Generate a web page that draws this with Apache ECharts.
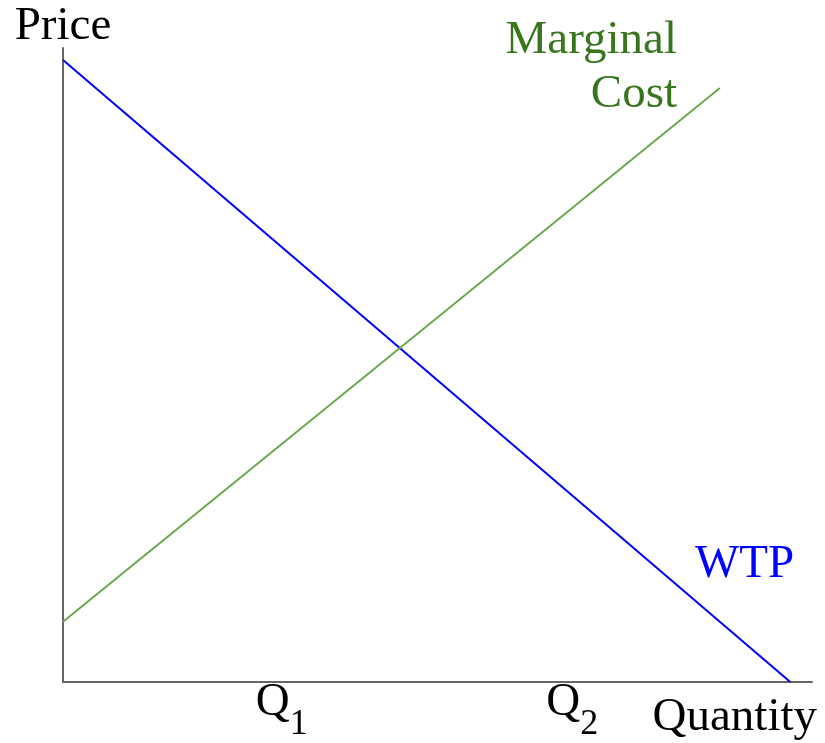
<!DOCTYPE html>
<html>
<head>
<meta charset="utf-8">
<script src="https://cdn.jsdelivr.net/npm/echarts@6/dist/echarts.min.js"></script>
<style>
  html, body { margin: 0; padding: 0; background: #fff; }
  #main { width: 825px; height: 743px; }
</style>
</head>
<body>
<div id="main"></div>
<script>
// curve end points (quantity, price) on a 0-100 scale
var wtpPoints = [[0, 98.1], [97.1, 0]];
var costPoints = [[0, 9.5], [87.7, 93.7]];
// marked quantities on the x axis
var qTicks = [29.2, 68.0];
var qNames = ['1', '2'];

var serif = 'Liberation Serif, Times New Roman, DejaVu Serif, serif';

var chart = echarts.init(document.getElementById('main'));

var option = {
    backgroundColor: '#ffffff',
    animation: false,
    grid: {
        left: 63,
        right: 13,
        top: 48,
        bottom: 61,
        outerBoundsMode: 'none'
    },
    xAxis: {
        type: 'value',
        min: 0,
        max: 100,
        name: 'Quantity',
        nameLocation: 'end',
        nameGap: 5,
        nameTextStyle: {
            fontFamily: serif,
            fontSize: 47,
            color: '#000',
            align: 'right',
            verticalAlign: 'top',
            padding: [12, 0, 0, 0]
        },
        axisLine: { lineStyle: { color: '#666', width: 2 } },
        axisTick: { show: false },
        splitLine: { show: false },
        axisLabel: {
            customValues: qTicks,
            margin: -3,
            formatter: function (v) {
                var i = qTicks.indexOf(v);
                return '{q|Q}{s|' + qNames[i] + '}';
            },
            rich: {
                q: { fontFamily: serif, fontSize: 47, color: '#000', lineHeight: 40, verticalAlign: 'top' },
                s: { fontFamily: serif, fontSize: 36, color: '#000', lineHeight: 64, verticalAlign: 'bottom' }
            }
        }
    },
    yAxis: {
        type: 'value',
        min: 0,
        max: 100,
        name: 'Price',
        nameLocation: 'end',
        nameGap: -2,
        nameTextStyle: {
            fontFamily: serif,
            fontSize: 47,
            color: '#000',
            align: 'center'
        },
        axisLine: { show: true, lineStyle: { color: '#666', width: 2 } },
        axisTick: { show: false },
        axisLabel: { show: false },
        splitLine: { show: false }
    },
    graphic: [
        {
            type: 'text',
            x: 677,
            y: 17,
            style: {
                text: 'Marginal',
                fill: '#38761d',
                font: '47px ' + serif,
                align: 'right',
                verticalAlign: 'top'
            }
        },
        {
            type: 'text',
            x: 677,
            y: 71,
            style: {
                text: 'Cost',
                fill: '#38761d',
                font: '47px ' + serif,
                align: 'right',
                verticalAlign: 'top'
            }
        },
        {
            type: 'text',
            x: 695,
            y: 541,
            style: {
                text: 'WTP',
                fill: '#0000ff',
                font: '47px ' + serif,
                verticalAlign: 'top'
            }
        }
    ],
    series: [
        {
            name: 'WTP',
            type: 'line',
            data: wtpPoints,
            symbol: 'none',
            lineStyle: { color: '#0000ff', width: 2 }
        },
        {
            name: 'Marginal Cost',
            type: 'line',
            data: costPoints,
            symbol: 'none',
            lineStyle: { color: '#6aa84f', width: 2 }
        }
    ]
};

chart.setOption(option);
</script>
</body>
</html>
